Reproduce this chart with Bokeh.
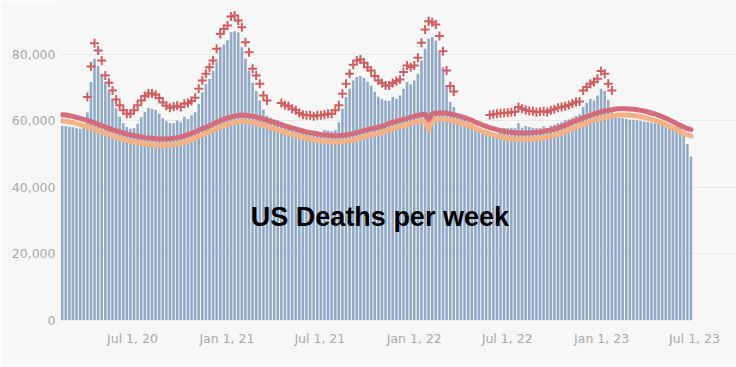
import numpy as np
import pandas as pd
from bokeh.plotting import figure
from bokeh.models import ColumnDataSource, FixedTicker, NumeralTickFormatter, Label, Range1d
from bokeh.embed import file_html
from bokeh.resources import INLINE

# ---------------- data ----------------
first_week = "2020-02-15"

deaths = [
    58600, 58500, 58300, 58100, 57800, 57600, 58200, 62600, 71700, 78700,
    76600, 74200, 71200, 68800, 66600, 63800, 61300, 59300, 58200, 57700,
    57900, 59200, 61200, 62800, 63900, 63600, 63300, 62200, 60800, 59900,
    59400, 59300, 60100, 59600, 61300, 60600, 61700, 62600, 65100, 68600,
    71100, 72700, 75100, 77700, 82200, 82900, 84300, 86800, 87000, 86600,
    82200, 78700, 75200, 71500, 69000, 66200, 63400, 61600, 61000, 60500,
    60200, 59800, 59200, 58900, 58500, 58200, 57800, 57400, 57100, 56800,
    56600, 56900, 56700, 57300, 57100, 56900, 57200, 59600, 63700, 67200,
    69700, 72200, 73200, 73500, 72900, 71800, 70700, 68800, 67300, 66600,
    66200, 66100, 67200, 66700, 67700, 69700, 71700, 71000, 72200, 74200,
    78200, 81700, 84700, 85300, 84200, 80700, 76200, 70700, 65700, 64200,
    62400, 61000, 60400, 59800, 59200, 58500, 57600, 56800, 56100, 55700,
    55900, 56200, 57300, 57900, 57800, 58000, 57800, 59300, 58000, 58500,
    58200, 58000, 57900, 57800, 58400, 58000, 58600, 58900, 59300, 59600,
    60200, 60500, 61000, 61500, 62000, 64200, 65400, 66700, 66200, 67700,
    69700, 69000, 66400, 62600, 61500, 61000, 60800, 60600, 60400, 60400,
    60200, 60000, 59800, 59700, 59500, 59300, 59100, 59000, 58800, 58700,
    58500, 58300, 58100, 56200, 53100, 49300,
]

above_threshold = [
    None, None, None, None, None, None, None, 67200, 76400, 83400,
    81200, 78200, 73700, 71500, 69200, 66500, 64700, 63200, 62200, 62200,
    63200, 64700, 66200, 67500, 68300, 68300, 67900, 66900, 65600, 64600,
    64000, 64300, 64600, 64200, 65200, 65400, 66000, 67000, 69700, 72200,
    74200, 76200, 78200, 81700, 86200, 87700, 88700, 91400, 91700, 90200,
    88200, 83700, 80700, 75700, 73700, 71200, 67700, 66200, None, None,
    None, 65400, 64700, 64400, 63700, 63200, 62400, 61900, 61700, 61700,
    61400, 61700, 61700, 61900, 62200, 62200, 63200, 64700, 68200, 71200,
    74200, 76900, 78200, 78500, 77500, 76200, 75200, 73500, 72200, 71400,
    70700, 70700, 71400, 72000, 72500, 74700, 76700, 76200, 76700, 79000,
    83500, 87500, 90000, 89700, 89000, 85600, 81000, 75200, 70500, 68900,
    None, None, None, None, None, None, None, None, None, 61800,
    62000, 62200, 62300, 62400, 62500, 62600, 62800, 64200, 63700, 63300,
    63000, 62900, 62600, 62800, 62900, 62700, 63200, 63500, 64000, 64200,
    64400, 64800, 65300, 65700, 65900, 69200, 70200, 71200, 71700, 72700,
    75000, 74200, 71200, 69200, None, None, None, None, None, None,
    None, None, None, None, None, None, None, None, None, None,
    None, None, None, None, None, None,
]

upper_threshold = [
    61900, 61800, 61600, 61400, 61100, 60800, 60500, 60200, 59800, 59400,
    59000, 58600, 58200, 57800, 57400, 57000, 56700, 56400, 56100, 55800,
    55600, 55400, 55200, 55000, 54900, 54800, 54700, 54600, 54600, 54600,
    54700, 54800, 55000, 55200, 55500, 55900, 56300, 56700, 57200, 57700,
    58100, 58600, 59100, 59600, 60100, 60500, 60900, 61200, 61500, 61700,
    61800, 61700, 61600, 61400, 61200, 60900, 60600, 60300, 59900, 59600,
    59200, 58900, 58500, 58200, 57900, 57600, 57300, 57000, 56700, 56500,
    56300, 56100, 55900, 55800, 55700, 55600, 55600, 55600, 55700, 55800,
    56000, 56200, 56500, 56800, 57100, 57400, 57700, 57900, 58100, 58400,
    58800, 59200, 59600, 59900, 60200, 60500, 60800, 61100, 61400, 61700,
    61900, 62000, 60400, 62200, 62300, 62400, 62400, 62300, 62100, 61900,
    61600, 61300, 61000, 60600, 60200, 59700, 59200, 58800, 58400, 58000,
    57700, 57400, 57100, 56900, 56700, 56600, 56500, 56400, 56400, 56400,
    56400, 56500, 56600, 56700, 56900, 57100, 57300, 57600, 57900, 58300,
    58700, 59200, 59700, 60100, 60500, 60900, 61300, 61700, 62100, 62400,
    62700, 63000, 63200, 63400, 63600, 63700, 63700, 63700, 63600, 63500,
    63400, 63200, 63000, 62700, 62400, 62100, 61700, 61300, 60800, 60300,
    59800, 59200, 58700, 58200, 57700, 57400,
]

expected = [
    60000, 59900, 59700, 59500, 59200, 58900, 58600, 58300, 57900, 57500,
    57100, 56700, 56300, 55900, 55500, 55100, 54800, 54500, 54200, 53900,
    53700, 53500, 53300, 53100, 53000, 52900, 52800, 52700, 52700, 52700,
    52800, 52900, 53100, 53300, 53600, 54000, 54400, 54800, 55300, 55800,
    56200, 56700, 57200, 57700, 58200, 58600, 59000, 59300, 59600, 59800,
    59900, 59800, 59700, 59500, 59300, 59000, 58700, 58400, 58000, 57700,
    57300, 57000, 56600, 56300, 56000, 55700, 55400, 55100, 54800, 54600,
    54400, 54200, 54000, 53900, 53800, 53700, 53700, 53700, 53800, 53900,
    54100, 54300, 54600, 54900, 55200, 55500, 55800, 56000, 56200, 56500,
    56900, 57300, 57700, 58000, 58300, 58600, 58900, 59200, 59500, 59800,
    60000, 60100, 57300, 60300, 60400, 60500, 60500, 60400, 60200, 60000,
    59700, 59400, 59100, 58700, 58300, 57800, 57300, 56900, 56500, 56100,
    55800, 55500, 55200, 55000, 54800, 54700, 54600, 54500, 54500, 54500,
    54500, 54600, 54700, 54800, 55000, 55200, 55400, 55700, 56000, 56400,
    56800, 57300, 57800, 58200, 58600, 59000, 59400, 59800, 60200, 60500,
    60800, 61100, 61300, 61500, 61700, 61800, 61800, 61800, 61700, 61600,
    61500, 61300, 61100, 60800, 60500, 60200, 59800, 59400, 58900, 58400,
    57900, 57300, 56800, 56300, 55800, 55500,
]

tick_dates = ["2020-07-01", "2021-01-01", "2021-07-01", "2022-01-01",
              "2022-07-01", "2023-01-01", "2023-07-01"]
tick_labels = ["Jul 1, 20", "Jan 1, 21", "Jul 1, 21", "Jan 1, 22",
               "Jul 1, 22", "Jan 1, 23", "Jul 1, 23"]
y_ticks = [0, 20000, 40000, 60000, 80000]
title_text = "US Deaths per week"

# ---------------- build ----------------
MS_DAY = 86400000
weeks = pd.date_range(first_week, periods=len(deaths), freq="7D")
x_ms = (weeks.astype("int64") // 10**6).astype(float)

src = ColumnDataSource(dict(
    x=x_ms,
    deaths=np.array(deaths, dtype=float),
    plus=np.array(above_threshold, dtype=float),
    upper=np.array(upper_threshold, dtype=float),
    expected=np.array(expected, dtype=float),
))

def ms(d):
    return int(pd.Timestamp(d).value // 10**6)

x_start = ms("2020-02-11 17:00")
x_end = ms("2023-09-20 19:00")

BG = "#f7f7f7"
p = figure(width=736, height=367, output_backend="svg", toolbar_location=None,
           x_range=Range1d(x_start, x_end), y_range=Range1d(0, 96240),
           background_fill_color=BG, border_fill_color=BG,
           min_border_left=60, min_border_right=0, min_border_top=0,
           min_border_bottom=47)
p.outline_line_color = None

p.vbar(x="x", top="deaths", width=5 * MS_DAY, bottom=0, source=src,
       fill_color="#91a9c8", line_color=None)
p.line(x="x", y="expected", source=src, line_color="#f4b285", line_width=5,
       line_cap="round", line_join="round")
p.line(x="x", y="upper", source=src, line_color="#d36b7b", line_width=5,
       line_cap="round", line_join="round")
p.scatter(x="x", y="plus", source=src, marker="cross", size=9,
          line_color="#cf5f60", line_width=2)

# axes
tick_ms = [ms(d) for d in tick_dates]
p.xaxis.ticker = FixedTicker(ticks=tick_ms)
p.xaxis.major_label_overrides = {t: l for t, l in zip(tick_ms, tick_labels)}
p.yaxis.ticker = FixedTicker(ticks=y_ticks)
p.yaxis.formatter = NumeralTickFormatter(format="0,0")
for ax in (p.xaxis[0], p.yaxis[0]):
    ax.axis_line_color = None
    ax.major_tick_line_color = None
    ax.minor_tick_line_color = None
    ax.major_tick_out = 0
    ax.major_tick_in = 0
    ax.minor_tick_out = 0
    ax.major_label_text_font = "DejaVu Sans"
    ax.major_label_text_font_size = "12.5px"
    ax.major_label_text_color = "#a8a8a8"
p.xaxis.major_label_standoff = 10
p.yaxis.major_label_standoff = 5

p.xgrid.grid_line_color = None
p.ygrid.grid_line_color = "#e8e8e8"
p.ygrid.grid_line_width = 1

title = Label(x=ms("2021-10-26"), y=31000, text=title_text,
              text_align="center", text_baseline="alphabetic",
              text_font="Liberation Sans", text_font_style="bold",
              text_font_size="27px", text_color="#000000")
p.add_layout(title)

open("out.html", "w").write(file_html(p, INLINE))
